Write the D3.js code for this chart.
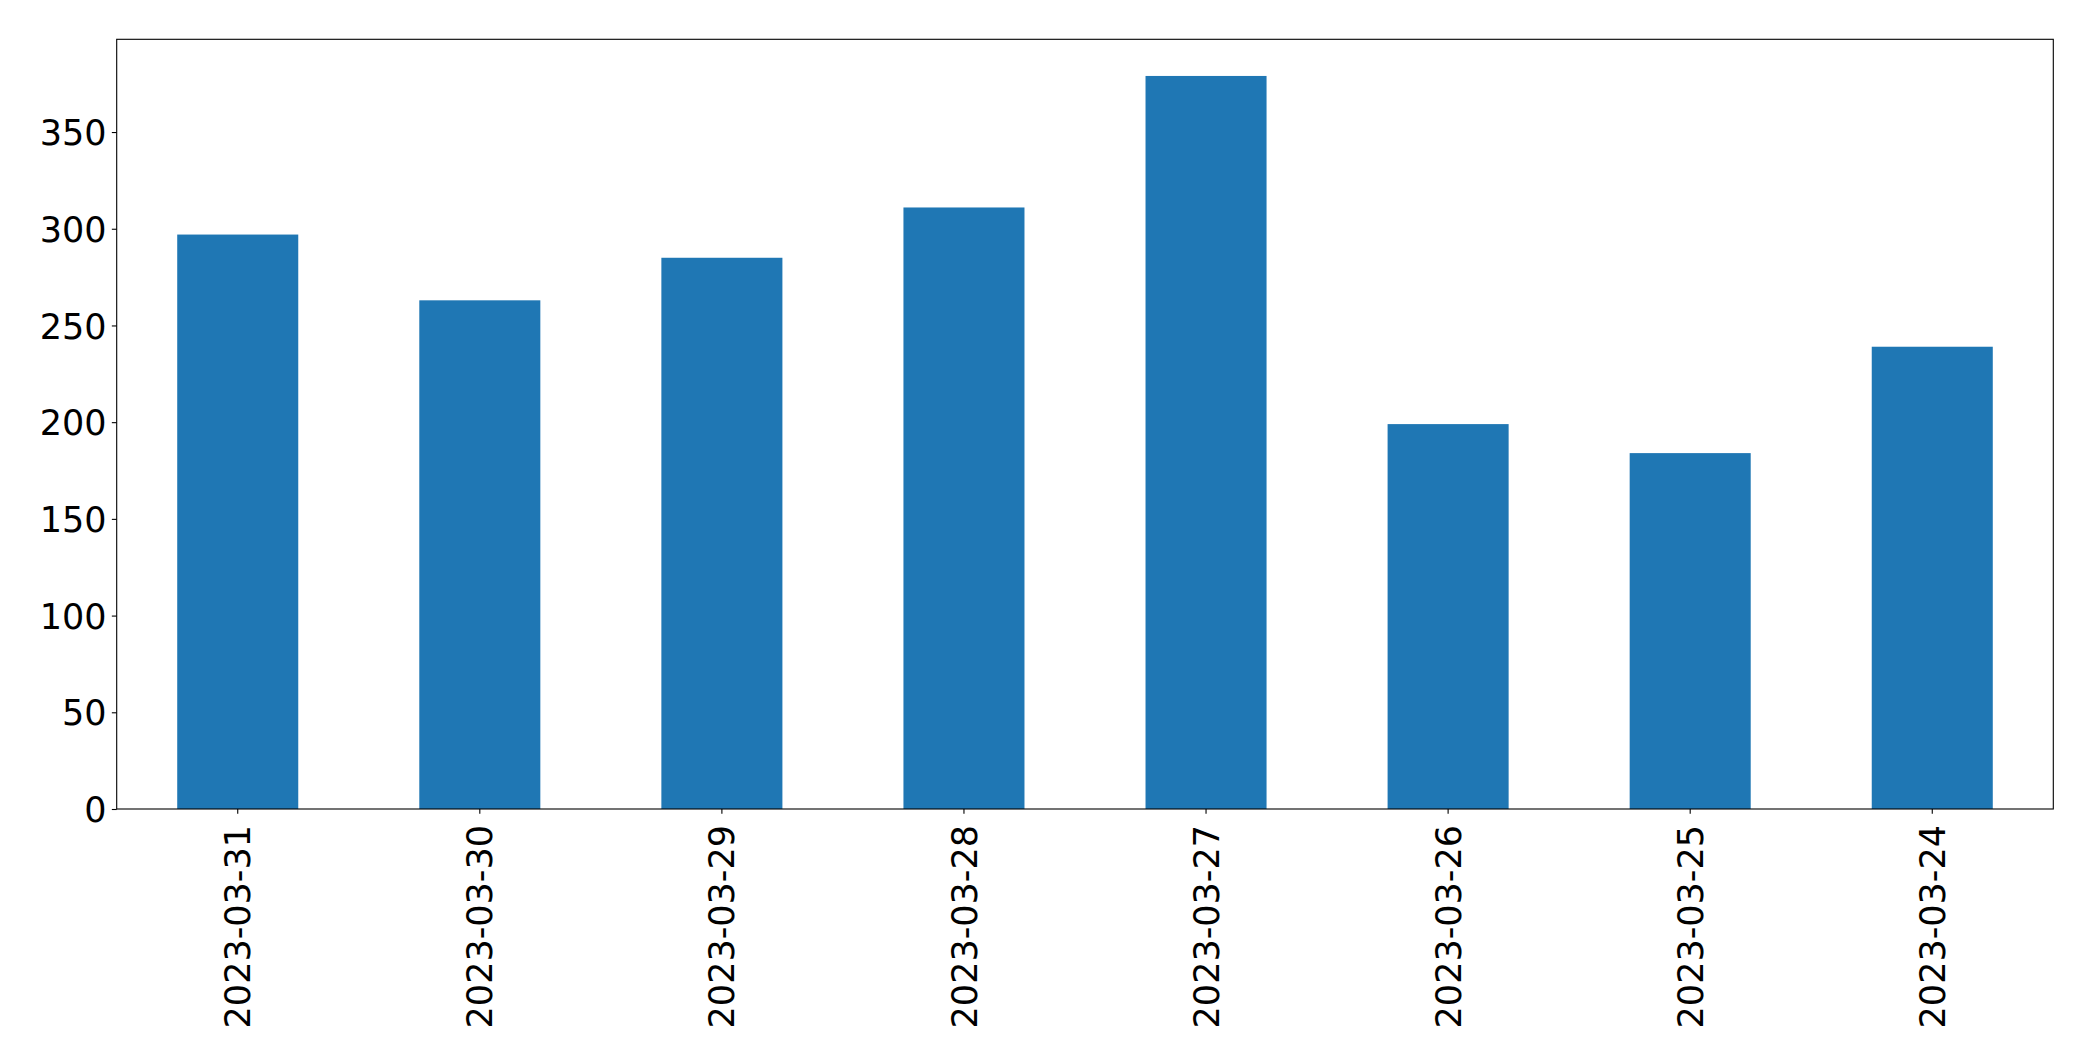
<!DOCTYPE html>
<html>
<head>
<meta charset="utf-8">
<script src="https://cdn.jsdelivr.net/npm/d3@7"></script>
<style>
  html, body { margin: 0; padding: 0; background: #fff; }
  svg { display: block; }
  text { font-family: "DejaVu Sans", sans-serif; fill: #000; }
</style>
</head>
<body>
<svg id="chart" width="2093" height="1061"></svg>
<script>
const categories = ["2023-03-31", "2023-03-30", "2023-03-29", "2023-03-28", "2023-03-27", "2023-03-26", "2023-03-25", "2023-03-24"];
const values = [297, 263, 285, 311, 379, 199, 184, 239];
const yTicks = [0, 50, 100, 150, 200, 250, 300, 350];

const W = 2093, H = 1061;
const margin = { left: 116.7, right: W - 2053.3, top: 39.3, bottom: H - 809 };
const iw = W - margin.left - margin.right;
const ih = H - margin.top - margin.bottom;

const svg = d3.select("#chart");
const g = svg.append("g").attr("transform", `translate(${margin.left},${margin.top})`);

const x = d3.scaleBand().domain(categories).range([0, iw]).paddingInner(0.5).paddingOuter(0.25);
const y = d3.scaleLinear().domain([0, d3.max(values) * 1.05]).range([ih, 0]);

g.selectAll("rect.bar")
  .data(values)
  .join("rect")
  .attr("class", "bar")
  .attr("x", (d, i) => x(categories[i]))
  .attr("width", x.bandwidth())
  .attr("y", d => y(d))
  .attr("height", d => ih - y(d))
  .attr("fill", "#1f77b4");

// frame
g.append("rect")
  .attr("x", 0).attr("y", 0).attr("width", iw).attr("height", ih)
  .attr("fill", "none").attr("stroke", "#000").attr("stroke-width", 1.1);

const yAxis = g.append("g")
  .call(d3.axisLeft(y).tickValues(yTicks).tickSize(4.86).tickPadding(5.3).tickFormat(d3.format("d")));
yAxis.select(".domain").remove();
yAxis.selectAll(".tick line").attr("stroke", "#000").attr("stroke-width", 1.1);
yAxis.selectAll(".tick text").style("font-size", "35px").attr("dy", "0.36em");

const xAxis = g.append("g")
  .attr("transform", `translate(0,${ih})`)
  .call(d3.axisBottom(x).tickSize(4.86).tickPadding(0));
xAxis.select(".domain").remove();
xAxis.selectAll(".tick line").attr("stroke", "#000").attr("stroke-width", 1.1);
xAxis.selectAll(".tick text")
  .style("font-size", "35px")
  .attr("text-anchor", "end")
  .attr("x", 0)
  .attr("y", 0)
  .attr("dy", "0.36em")
  .attr("transform", "translate(0,16) rotate(-90)");
</script>
</body>
</html>
